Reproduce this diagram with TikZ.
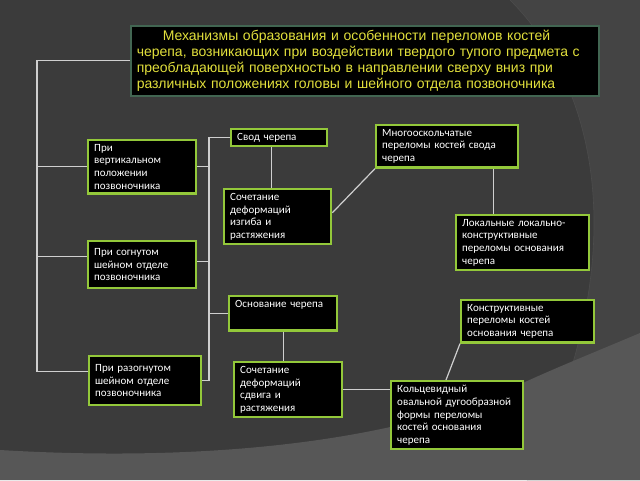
\documentclass[tikz,border=0pt]{standalone}
\usepackage{fontspec}
\setmainfont{Liberation Sans}
\newfontfamily\boxfont{Carlito}
\usetikzlibrary{calc}

\definecolor{bgdark}{HTML}{3B3B3B}
\definecolor{bgmid}{HTML}{444444}
\definecolor{bgband}{HTML}{575757}
\definecolor{limeedge}{HTML}{93C83A}
\definecolor{titleedge}{HTML}{426652}
\definecolor{titletext}{HTML}{E2E03C}
\definecolor{wire}{HTML}{CFCFCF}

\def\bx{6}
\def\by{4}

\begin{document}
\begin{tikzpicture}[x=1pt, y=-1pt,
    blk/.style={draw=limeedge, fill=black, line width=2.4pt, text=white,
                align=left, anchor=north west, inner xsep=\bx pt, inner ysep=\by pt,
                font=\boxfont\fontsize{11}{12.7}\selectfont},
    hdr/.style={draw=titleedge, fill=black, line width=1.5pt, text=titletext,
                align=left, anchor=north west, inner xsep=6pt, inner ysep=4pt,
                font=\fontsize{14}{15.7}\selectfont},
    wires/.style={draw=wire, line width=1.2pt}
   ]

    \useasboundingbox (0,0) rectangle (640,480);

    % background
    \fill [bgdark] (0,0) rectangle (640,480);
    \fill [bgmid] (510,0) .. controls (600,90) and (635,260) .. (527,480)
        -- (640,480) -- (640,0) -- cycle;
    \draw [black!70, line width=0.6pt] (510,0) .. controls (600,90) and (635,260) .. (527,480);
    \fill [bgband] (0,450) .. controls (250,465) and (430,430) .. (525,382)
        .. controls (560,366) and (600,350) .. (640,333) -- (640,480) -- (0,480) -- cycle;

    % title
    \node [hdr, text width=456pt, minimum height=70pt] (title) at (130,25)
        {\hspace*{26pt}Механизмы образования и особенности переломов костей\\
         черепа, возникающих при воздействии твердого тупого предмета с\\
         преобладающей поверхностью в направлении сверху вниз при\\
         различных положениях головы и шейного отдела позвоночника};

    % positions
    \node [blk, text width=96pt]  (vert) at (87,139)  {При\\вертикальном\\положении\\позвоночника};
    \node [blk, text width=96pt, minimum height=47pt]  (flex) at (87,240)  {При согнутом\\шейном отделе\\позвоночника};
    \node [blk, text width=100pt, minimum height=49pt] (ext)  at (88,355)  {При разогнутом\\шейном отделе\\позвоночника};

    % vault branch
    \node [blk, text width=84pt]  (vault) at (230,128) {Свод черепа};
    \node [blk, text width=95pt]  (bend)  at (223,188) {Сочетание\\деформаций\\изгиба и\\растяжения};
    \node [blk, text width=130pt] (comm)  at (375,124) {Многооскольчатые\\переломы костей свода\\черепа};
    \node [blk, text width=121pt] (local) at (455,214) {Локальные локально-\\конструктивные\\переломы основания\\черепа};

    % base branch
    \node [blk, text width=96pt, text depth=19pt] (base) at (228,295) {Основание черепа};
    \node [blk, text width=96pt]  (shear)  at (233,361) {Сочетание\\деформаций\\сдвига и\\растяжения};
    \node [blk, text width=121pt] (constr) at (460,299) {Конструктивные\\переломы костей\\основания черепа};
    \node [blk, text width=120pt] (ring)   at (390,380) {Кольцевидный\\овальной дугообразной\\формы переломы\\костей основания\\черепа};

    % connectors
    \draw [wires] (title.west) -- ++(-93,0) coordinate (ltop) |- ([yshift=9pt]ext.west);
    \draw [wires] (vert.west) -- (vert.west -| ltop);
    \draw [wires] ([yshift=8pt]flex.west) -- ([yshift=8pt]flex.west -| ltop);

    \draw [wires] (vault.west) -- ++(-21,0) coordinate (rtop) |- (ext.east);
    \draw [wires] (vert.east) -- (vert.east -| rtop);
    \draw [wires] ([yshift=3pt]flex.east) -- ([yshift=3pt]flex.east -| rtop);
    \draw [wires] (base.west) -- (base.west -| rtop);

    \draw [wires] ([xshift=-8pt]vault.south) -- ([xshift=-8pt]vault.south |- bend.north);
    \draw [wires] ([yshift=4pt]bend.east) -- (comm.south west);
    \draw [wires] ([xshift=-26pt]comm.south east) -- ([xshift=-26pt]comm.south east |- local.north);

    \draw [wires] (base.south) -- (base.south |- shear.north);
    \draw [wires] (shear.east) -- (shear.east -| ring.west);
    \draw [wires] (constr.south west) -- ([xshift=56pt]ring.north west);

\end{tikzpicture}
\end{document}
